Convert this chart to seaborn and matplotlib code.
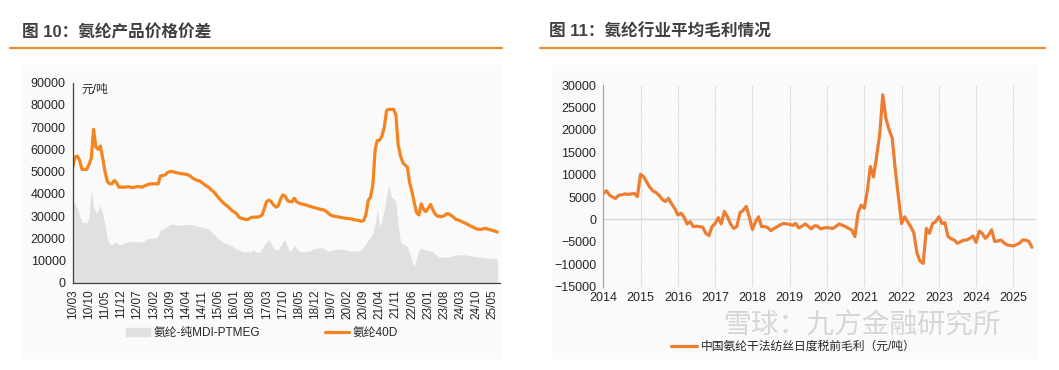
import pandas as pd
import numpy as np
import matplotlib
matplotlib.use("Agg")
import matplotlib.pyplot as plt
import matplotlib.dates as mdates
from matplotlib.patches import Rectangle
from matplotlib.lines import Line2D
import seaborn as sns

# ---- left chart data: monthly, 2010-03 .. 2025-07 ----
spandex_40d = [
    52000, 56500, 57000, 55000, 51000, 51000, 51000, 53000, 56000, 69000,             # 2010
    61000, 60000, 61500, 56000, 50000, 45500, 44500, 44500, 46000, 45000, 43000, 43000,  # 2011
    43000, 43000, 43200, 43000, 42800, 43000, 43300, 43200, 43000, 43500, 44000, 44300,  # 2012
    44500, 44500, 44500, 44500, 48000, 48200, 48500, 49500, 50000, 50000, 49800, 49500,  # 2013
    49300, 49000, 49000, 48800, 48500, 48000, 47000, 46500, 46000, 45800, 45000, 44200,  # 2014
    43500, 42800, 41800, 41000, 39800, 38500, 37300, 36200, 35200, 34500, 33500, 32500,  # 2015
    31800, 31000, 29500, 29000, 28800, 28400, 28500, 29200, 29500, 29500, 29500, 29800,  # 2016
    30500, 33500, 36500, 37200, 36500, 35000, 34000, 34500, 37500, 39500, 39000, 37000,  # 2017
    36500, 36400, 38000, 36500, 35800, 35500, 35200, 35000, 34600, 34300, 34000, 33700,  # 2018
    33400, 33100, 32900, 32700, 32000, 31000, 30300, 30000, 29800, 29600, 29400, 29200,  # 2019
    29000, 28900, 28800, 28600, 28300, 28200, 28000, 27600, 28000, 30500, 37000, 38500,  # 2020
    44000, 60000, 64000, 64200, 66000, 70000, 77500, 78000, 78000, 78000, 75500, 62000,  # 2021
    57000, 54000, 53000, 52000, 45000, 41000, 36000, 31500, 30500, 35500, 33000, 32000,  # 2022
    33500, 35200, 33000, 31000, 30000, 29800, 29700, 30200, 31000, 31000, 30200, 29500,  # 2023
    28500, 28200, 27800, 27300, 26800, 26300, 25700, 25200, 24700, 24200, 24000, 24000,  # 2024
    24300, 24500, 24000, 23800, 23500, 23200, 22800,                                     # 2025
]
spread_mdi_ptmeg = [
    36400, 35800, 33500, 30000, 27200, 27000, 27000, 29500, 42000, 34000,
    31500, 33000, 35000, 31000, 26000, 20000, 17500, 17000, 18000, 18500, 17000, 17200,
    17800, 18200, 18700, 18500, 18400, 18500, 18300, 18500, 18200, 19000, 19500, 20000,
    20000, 20000, 20200, 21000, 23800, 24000, 24500, 25500, 26200, 26300, 26200, 26000,
    26000, 25900, 26000, 26200, 26300, 26000, 26200, 25800, 25500, 25200, 25000, 24700,
    24500, 24000, 23000, 22000, 21000, 20000, 19000, 18400, 17800, 17300, 17000, 16500,
    15800, 15000, 14700, 14300, 14000, 13900, 14200, 13800, 14700, 14000, 13700, 13500,
    15500, 17000, 18500, 19500, 17500, 15500, 15000, 14700, 16500, 18500, 19000, 16000,
    14200, 15000, 17000, 15500, 14200, 14000, 14000, 14000, 14100, 14500, 15000, 15300,
    15500, 15800, 15800, 15200, 14500, 14300, 14500, 14800, 15000, 15200, 15000, 15000,
    14800, 14500, 14300, 14200, 14300, 14200, 14500, 14700, 16000, 17500, 19200, 20500,
    22000, 27000, 33000, 25500, 28000, 33000, 39500, 44000, 38500, 38000, 36500, 26000,
    18000, 17500, 17000, 16200, 13500, 9500, 7200, 11500, 14500, 15500, 15200, 14800,
    14500, 14300, 14000, 13000, 12000, 11500, 11500, 11600, 11500, 11600, 11800, 12200,
    12500, 12600, 12500, 12500, 12500, 12400, 12200, 12000, 11800, 11700, 11600, 11500,
    11300, 11200, 11100, 11000, 10900, 10800, 10700,
]
left_start = "2010-03-01"

# ---- right chart data: monthly gross margin, 2014-01 .. 2025-07 ----
gross_margin = [
    5800, 6400, 5500, 5000, 4700, 5400, 5500, 5700, 5600, 5700, 5800, 5100,          # 2014
    10100, 9500, 8400, 7200, 6400, 6000, 5400, 4500, 4000, 4700, 3500, 2500,         # 2015
    1000, 1400, 600, -1000, -500, -1600, -1500, -1600, -1700, -3100, -3600, -1600,   # 2016
    -900, 400, -1000, 1800, 600, -1000, -2000, -1600, 1500, 2000, 2900, 600,         # 2017
    -2200, -500, 600, -1600, -1600, -1800, -2500, -2000, -1600, -1200, -900, -1000,  # 2018
    -1100, -1300, -900, -1900, -1500, -1000, -1500, -2100, -1400, -1500, -2100, -1900,  # 2019
    -1800, -1900, -2000, -1500, -1000, -1300, -1600, -2000, -2400, -3800, 1500, 3200,   # 2020
    2500, 6600, 11800, 9500, 14000, 19000, 27800, 22500, 20000, 18200, 11000, 5100,    # 2021
    -900, 600, -500, -1600, -3000, -7500, -9300, -9800, -2000, -3100, -900, -500,      # 2022
    600, -900, -700, -3800, -4300, -4600, -5300, -5000, -4600, -4600, -4200, -3700,    # 2023
    -5100, -2600, -3100, -4200, -3500, -2300, -4900, -4800, -4600, -5200, -5700, -5800,  # 2024
    -5900, -5600, -5300, -4600, -4600, -4900, -6200,                                    # 2025
]
right_start = "2014-01-01"

left_title = "图 10：氨纶产品价格价差"
right_title = "图 11：氨纶行业平均毛利情况"
left_labels = ["氨纶-纯MDI-PTMEG", "氨纶40D"]
right_label = "中国氨纶干法纺丝日度税前毛利（元/吨）"
watermark = "雪球：九方金融研究所"

sns.set_style("white")
plt.rcParams["font.family"] = ["Liberation Sans", "Noto Sans CJK SC", "DejaVu Sans"]

ORANGE_L = "#F5841F"
ORANGE_R = "#ED7D31"
GRAY_FILL = "#E0E0E0"

df_left = pd.DataFrame({
    "date": pd.date_range(left_start, periods=len(spandex_40d), freq="MS"),
    "40d": spandex_40d,
    "spread": spread_mdi_ptmeg,
})
df_right = pd.DataFrame({
    "date": pd.date_range(right_start, periods=len(gross_margin), freq="MS"),
    "margin": gross_margin,
})

fig = plt.figure(figsize=(10.59, 3.70), dpi=100)

# panel backgrounds, titles and orange rules
fig.patches.append(Rectangle((22 / 1059, 1 - 358 / 370), 478 / 1059, 293 / 370,
                             transform=fig.transFigure, color="#FAFAFA", zorder=-5))
fig.patches.append(Rectangle((552 / 1059, 1 - 358 / 370), 485 / 1059, 293 / 370,
                             transform=fig.transFigure, color="#FAFAFA", zorder=-5))
fig.text(22 / 1059, 1 - 32 / 370, left_title, fontsize=12, fontweight="bold",
         color="#404040", va="center", ha="left")
fig.text(549 / 1059, 1 - 32 / 370, right_title, fontsize=12, fontweight="bold",
         color="#404040", va="center", ha="left")
fig.lines.append(Line2D([10 / 1059, 502 / 1059], [1 - 48 / 370] * 2,
                        transform=fig.transFigure, color="#F08A2C", lw=1.6))
fig.lines.append(Line2D([540 / 1059, 1045 / 1059], [1 - 48 / 370] * 2,
                        transform=fig.transFigure, color="#F08A2C", lw=1.6))

# watermark (drawn under the legend)
fig.text(724 / 1059, 1 - 326 / 370, watermark, fontsize=20,
         color="#D6D6D6", va="center", ha="left", zorder=-1)

# ---- left chart ----
ax1 = fig.add_axes([72.7 / 1059, 1 - 282.7 / 370, 427 / 1059, 200 / 370])
ax1.set_zorder(2)
ax1.patch.set_alpha(0)
ax1.fill_between(df_left["date"], 0, df_left["spread"], color=GRAY_FILL, lw=0)
sns.lineplot(data=df_left, x="date", y="40d", ax=ax1, color=ORANGE_L, lw=2.3,
             legend=False)
ax1.set_ylim(0, 90000)
ax1.set_yticks(range(0, 90001, 10000))
ax1.set_xlim(pd.Timestamp("2010-03-01"), pd.Timestamp("2025-08-01"))
xt = pd.date_range("2010-03-01", "2025-06-01", freq="7MS")
ax1.set_xticks(xt)
ax1.set_xticklabels([d.strftime("%y/%m") for d in xt], rotation=90, fontsize=8.5)
ax1.tick_params(axis="y", labelsize=9, length=3, width=0.8, color="#404040", pad=2)
ax1.tick_params(axis="x", length=3, width=0.8, color="#404040", pad=2)
for s in ["top", "right"]:
    ax1.spines[s].set_visible(False)
for s in ["left", "bottom"]:
    ax1.spines[s].set_color("#404040")
    ax1.spines[s].set_linewidth(0.9)
ax1.set_xlabel("")
ax1.set_ylabel("")
ax1.text(0.02, 0.995, "元/吨", transform=ax1.transAxes, fontsize=8.5, va="top", ha="left")

h1 = [Rectangle((0, 0), 1, 1, color=GRAY_FILL), Line2D([], [], color=ORANGE_L, lw=2.3)]
fig.legend(h1, left_labels, loc="center", bbox_to_anchor=(262 / 1059, 1 - 333 / 370),
           ncol=2, frameon=False, fontsize=8.5, columnspacing=5.5, handlelength=2.0,
           handletextpad=0.3)

# ---- right chart ----
ax2 = fig.add_axes([603.3 / 1059, 1 - 286.7 / 370, 432.7 / 1059, 201.7 / 370])
ax2.set_zorder(2)
ax2.patch.set_alpha(0)
years = pd.date_range("2014-01-01", "2025-01-01", freq="YS")
for d in years[1:]:
    ax2.axvline(d, color="#C8C8C8", lw=0.8, ls=(0, (1, 1)), zorder=0)
ax2.axhline(0, color="#D9D9D9", lw=1, zorder=0)
sns.lineplot(data=df_right, x="date", y="margin", ax=ax2, color=ORANGE_R, lw=2.3,
             legend=False)
ax2.set_ylim(-15000, 30000)
ax2.set_yticks(range(-15000, 30001, 5000))
ax2.set_xlim(pd.Timestamp("2014-01-01"), pd.Timestamp("2025-08-10"))
ax2.set_xticks(years)
ax2.xaxis.set_major_formatter(mdates.DateFormatter("%Y"))
ax2.tick_params(axis="y", labelsize=9, length=3, width=0.8, color="#A6A6A6", pad=2)
ax2.tick_params(axis="x", labelsize=9, length=0, pad=4)
for s in ["top", "right", "bottom"]:
    ax2.spines[s].set_visible(False)
ax2.spines["left"].set_color("#A6A6A6")
ax2.spines["left"].set_linewidth(0.9)
ax2.set_xlabel("")
ax2.set_ylabel("")

h2 = [Line2D([], [], color=ORANGE_R, lw=2.3)]
fig.legend(h2, [right_label], loc="center", bbox_to_anchor=(793 / 1059, 1 - 347 / 370),
           frameon=False, fontsize=8.5, handlelength=2.2, handletextpad=0.3)

fig.savefig("out.png", dpi=100)
